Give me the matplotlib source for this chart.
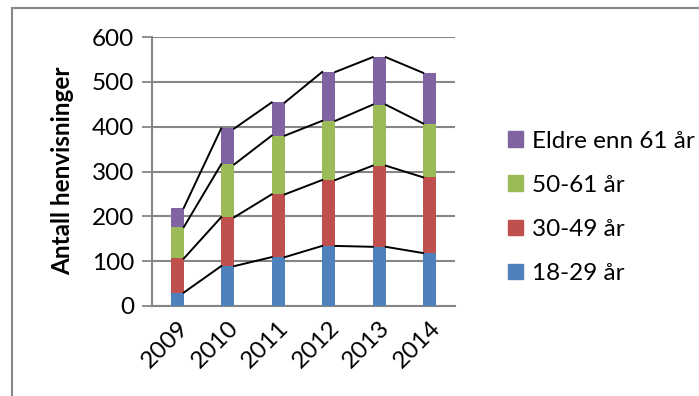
import matplotlib.pyplot as plt
import numpy as np
from matplotlib.patches import Patch, Rectangle

# data
years = ["2009", "2010", "2011", "2012", "2013", "2014"]
g18_29 = [30, 89, 109, 134, 132, 118]
g30_49 = [76, 109, 140, 147, 181, 169]
g50_61 = [70, 118, 131, 132, 136, 120]
g61_plus = [43, 80, 74, 109, 106, 113]
labels = ["18-29 år", "30-49 år", "50-61 år", "Eldre enn 61 år"]
colors = ["#4F81BD", "#C0504D", "#9BBB59", "#8064A2"]

plt.rcParams['font.family'] = ['Lato', 'DejaVu Sans']
grid_col = "#868686"
fs = 17.5

fig = plt.figure(figsize=(6.99, 3.96), dpi=100)
ax = fig.add_axes([152 / 699, 90 / 396, 303 / 699, 269 / 396])

x = np.arange(len(years))
w = 0.26
series = [g18_29, g30_49, g50_61, g61_plus]
bottom = np.zeros(len(years))
for vals, col in zip(series, colors):
    vals = np.array(vals)
    ax.bar(x, vals, w, bottom=bottom, color=col, zorder=3)
    bottom = bottom + vals
    # series lines between bar tops
    for i in range(len(years) - 1):
        ax.plot([x[i] + w / 2, x[i + 1] - w / 2], [bottom[i], bottom[i + 1]],
                color="black", lw=1.4, zorder=4)

ax.set_xlim(-0.5, 5.5)
ax.set_ylim(0, 600)
ax.set_yticks(range(0, 601, 100))
ax.set_xticks(x)
ax.set_xticklabels(years, rotation=45, ha="right", rotation_mode="anchor", fontsize=fs)
ax.tick_params(axis="y", labelsize=fs, length=7, width=1.3, color=grid_col, pad=6)
ax.tick_params(axis="x", length=0, pad=8)
ax.grid(axis="y", color=grid_col, lw=1.5, zorder=0)
ax.set_axisbelow(True)
for s in ["top", "right"]:
    ax.spines[s].set_visible(False)
ax.spines["left"].set_color(grid_col)
ax.spines["left"].set_linewidth(1.5)
ax.spines["bottom"].set_color(grid_col)
ax.spines["bottom"].set_linewidth(1.5)

fig.text(63 / 699, 0.568, "Antall henvisninger", rotation=90, ha="center", va="center",
         fontsize=fs, fontweight="bold")

# title is cut off at the top of the picture
fig.text(306 / 699, 1.0 + 5.5 / 396, "Aldersfordeling", ha="right", va="baseline",
         fontsize=fs, fontweight="bold")

handles = [Patch(color=c) for c in colors][::-1]
fig.legend(handles, labels[::-1], loc="upper left", bbox_to_anchor=(0.695, 0.725),
           frameon=False, fontsize=fs, handlelength=0.62, handleheight=0.62,
           handletextpad=0.4, labelspacing=0.95)

fig.add_artist(Rectangle((12 / 699, -0.1), 1.2, (396 - 8) / 396 + 0.1,
                         transform=fig.transFigure, fill=False,
                         edgecolor=grid_col, lw=1.5))

fig.savefig("out.png", dpi=100)
